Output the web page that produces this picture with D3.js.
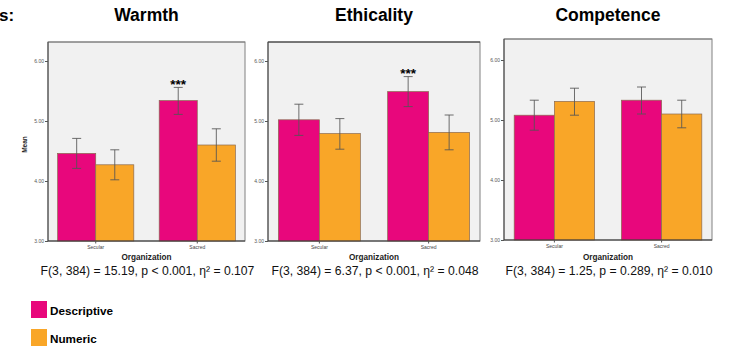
<!DOCTYPE html>
<html>
<head>
<meta charset="utf-8">
<script src="https://cdn.jsdelivr.net/npm/d3@7"></script>
<style>
  body { margin: 0; background: #fff; }
  svg { display: block; font-family: Arial, "Liberation Sans", Helvetica, sans-serif; }
</style>
</head>
<body>
<svg id="chart" width="732" height="348"></svg>
<script>
// data
const organizations = ["Secular", "Sacred"];
const conditions = ["Descriptive", "Numeric"];
const yTicks = [3, 4, 5, 6];
const panelTitles = ["Warmth", "Ethicality", "Competence"];
const statLines = [
    "F(3, 384) = 15.19, p < 0.001, \u03b7\u00b2 = 0.107",
    "F(3, 384) = 6.37, p < 0.001, \u03b7\u00b2 = 0.048",
    "F(3, 384) = 1.25, p = 0.289, \u03b7\u00b2 = 0.010"
];
// order: Secular-Descriptive, Secular-Numeric, Sacred-Descriptive, Sacred-Numeric
const warmthMean = [4.46, 4.27, 5.34, 4.60];
const warmthLow  = [4.21, 4.02, 5.11, 4.33];
const warmthHigh = [4.71, 4.52, 5.56, 4.87];
const ethicalityMean = [5.02, 4.79, 5.49, 4.81];
const ethicalityLow  = [4.76, 4.53, 5.24, 4.52];
const ethicalityHigh = [5.28, 5.04, 5.74, 5.10];
const competenceMean = [5.08, 5.31, 5.33, 5.10];
const competenceLow  = [4.83, 5.08, 5.10, 4.87];
const competenceHigh = [5.33, 5.53, 5.55, 5.33];
// which bar carries the *** mark
const warmthStars = ["Sacred-Descriptive"];
const ethicalityStars = ["Sacred-Descriptive"];
const competenceStars = [];

const colors = { Descriptive: "#e8077c", Numeric: "#f9a628" };

const svg = d3.select("#chart");

const panels = [
    { title: panelTitles[0], mean: warmthMean, low: warmthLow, high: warmthHigh, stars: warmthStars, stat: statLines[0],
      left: 48, right: 245, top: 42, bottom: 241, showMean: true, topStroke: "#808080" },
    { title: panelTitles[1], mean: ethicalityMean, low: ethicalityLow, high: ethicalityHigh, stars: ethicalityStars, stat: statLines[1],
      left: 268, right: 480, top: 42, bottom: 241, topStroke: "#333" },
    { title: panelTitles[2], mean: competenceMean, low: competenceLow, high: competenceHigh, stars: competenceStars, stat: statLines[2],
      left: 504, right: 712, top: 39, bottom: 240, topStroke: "#808080" }
];

// cut-off heading on the far left
svg.append("text").attr("x", -1).attr("y", 21)
    .attr("font-size", 17).attr("font-weight", "bold").text("s:");

panels.forEach(p => {
    const g = svg.append("g");
    const y = d3.scaleLinear().domain([3, 6]).range([p.bottom, p.bottom - 180]);
    const x = d3.scaleBand().domain(organizations).range([p.left, p.right])
        .paddingInner(0.25).paddingOuter(0.095);
    const xs = d3.scaleBand().domain(conditions).range([0, x.bandwidth()]);

    const rows = [];
    organizations.forEach((o, i) => conditions.forEach((c, j) => {
        const k = i * 2 + j;
        rows.push({ org: o, cond: c, mean: p.mean[k], low: p.low[k], high: p.high[k],
            star: p.stars.includes(o + "-" + c) });
    }));

    const cx = (p.left + p.right) / 2;
    g.append("text").attr("x", cx).attr("y", 21).attr("text-anchor", "middle")
        .attr("font-size", 17.5).attr("font-weight", "bold").text(p.title);

    g.append("rect").attr("x", p.left).attr("y", p.top)
        .attr("width", p.right - p.left).attr("height", p.bottom - p.top)
        .attr("fill", "#f1f1f1").attr("stroke", "#808080").attr("stroke-width", 1);
    g.append("line").attr("x1", p.left).attr("x2", p.right)
        .attr("y1", p.top).attr("y2", p.top).attr("stroke", p.topStroke);

    g.selectAll(".bar").data(rows).join("rect")
        .attr("x", d => x(d.org) + xs(d.cond))
        .attr("y", d => y(d.mean))
        .attr("width", xs.bandwidth())
        .attr("height", d => y(3) - y(d.mean))
        .attr("fill", d => colors[d.cond])
        .attr("stroke", "#8a6a50").attr("stroke-width", 0.7);

    const eb = g.selectAll(".err").data(rows).join("g")
        .attr("stroke", "#555").attr("stroke-width", 1).attr("stroke-opacity", 0.85);
    eb.append("line")
        .attr("x1", d => x(d.org) + xs(d.cond) + xs.bandwidth() / 2)
        .attr("x2", d => x(d.org) + xs(d.cond) + xs.bandwidth() / 2)
        .attr("y1", d => y(d.low)).attr("y2", d => y(d.high));
    [d => d.low, d => d.high].forEach(f => {
        eb.append("line")
            .attr("x1", d => x(d.org) + xs(d.cond) + xs.bandwidth() / 2 - 4.5)
            .attr("x2", d => x(d.org) + xs(d.cond) + xs.bandwidth() / 2 + 4.5)
            .attr("y1", d => y(f(d))).attr("y2", d => y(f(d)));
    });

    g.selectAll(".star").data(rows.filter(d => d.star)).join("text")
        .attr("x", d => x(d.org) + xs(d.cond) + xs.bandwidth() / 2)
        .attr("y", d => y(d.high) + 1.5)
        .attr("text-anchor", "middle").attr("font-size", 13.5).attr("font-weight", "bold")
        .text("***");

    // axes
    const yAxis = g.append("g").attr("transform", `translate(${p.left},0)`)
        .call(d3.axisLeft(y).tickValues(yTicks).tickFormat(d3.format(".2f")).tickSize(3).tickPadding(1));
    yAxis.select(".domain").attr("d", `M0,${p.top}V${p.bottom}`).attr("stroke", "#444");
    yAxis.selectAll(".tick line").attr("stroke", "#555");
    yAxis.selectAll("text").attr("font-size", 5).attr("fill", "#555");

    const xAxis = g.append("g").attr("transform", `translate(0,${p.bottom})`)
        .call(d3.axisBottom(x).tickSize(2.5).tickPadding(1.5));
    xAxis.select(".domain").attr("d", `M${p.left},0H${p.right}`).attr("stroke", "#333");
    xAxis.selectAll(".tick line").attr("stroke", "#555");
    xAxis.selectAll("text").attr("font-size", 5).attr("fill", "#444");

    g.append("text").attr("x", cx).attr("y", 259.5).attr("text-anchor", "middle")
        .attr("font-size", 8.2).attr("font-weight", "bold").attr("fill", "#222").text("Organization");

    g.append("text").attr("x", cx + 1).attr("y", 274.5).attr("text-anchor", "middle")
        .attr("font-size", 12.2).attr("fill", "#111").text(p.stat);

    if (p.showMean) {
        g.append("text").attr("transform", `translate(27,${(p.top + p.bottom) / 2 + 3}) rotate(-90)`)
            .attr("text-anchor", "middle").attr("font-size", 6.5).attr("font-weight", "bold")
            .attr("fill", "#222").text("Mean");
    }
});

// legend
const legend = svg.append("g").selectAll("g").data(conditions).join("g")
    .attr("transform", (d, i) => `translate(31,${301 + i * 28})`);
legend.append("rect").attr("width", 16).attr("height", 17).attr("fill", d => colors[d]);
legend.append("text").attr("x", 19).attr("y", 14).attr("font-size", 11.7)
    .attr("font-weight", "bold").text(d => d);
</script>
</body>
</html>
